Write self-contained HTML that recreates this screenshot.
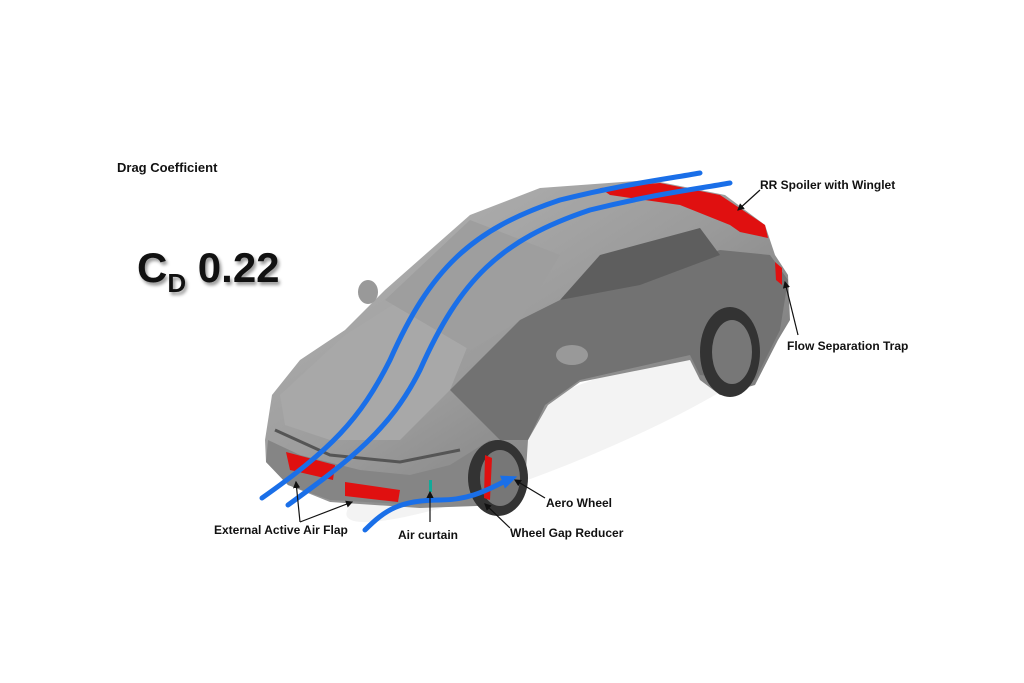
<!DOCTYPE html>
<html><head><meta charset="utf-8"><style>
html,body{margin:0;padding:0;background:#fff;}
body{width:1024px;height:683px;position:relative;overflow:hidden;font-family:"Liberation Sans",sans-serif;}
.t{position:absolute;font-weight:bold;color:#111;font-size:12px;white-space:nowrap;}
</style></head><body>
<svg width="1024" height="683" style="position:absolute;left:0;top:0">
<defs>
<linearGradient id="bd" x1="0" y1="0" x2="1" y2="1">
<stop offset="0" stop-color="#b9b9b9"/><stop offset="0.5" stop-color="#9a9a9a"/><stop offset="1" stop-color="#6a6a6a"/>
</linearGradient>
<marker id="ar" markerUnits="userSpaceOnUse" markerWidth="16" markerHeight="16" refX="6" refY="8" orient="auto"><path d="M0,1 L16,8 L0,15 Z" fill="#1a6fe8"/></marker>
<marker id="bk" markerWidth="6" markerHeight="6" refX="5" refY="3" orient="auto"><path d="M0,0 L6,3 L0,6 Z" fill="#111"/></marker>
</defs>
<ellipse cx="560" cy="430" rx="230" ry="35" fill="#f3f3f3" transform="rotate(-22 560 430)"/>
<!-- body -->
<path d="M265,440 L272,395 L300,360 L345,330 L385,290 L470,215 L540,188 L650,180 L725,195 L765,225 L775,255 L788,275 L790,320 L778,340 L755,385 L720,395 L700,380 L690,360 L580,382 L548,405 L528,440 L525,485 L505,505 L420,508 L330,502 L288,485 L266,462 Z" fill="url(#bd)"/>
<path d="M280,395 L345,335 L400,300 L470,340 L450,390 L400,440 L330,440 L285,425 Z" fill="#a8a8a8"/>
<path d="M385,300 L470,220 L560,255 L520,320 L470,350 Z" fill="#9e9e9e"/>
<path d="M450,390 L520,320 L560,300 L720,250 L770,255 L788,280 L780,330 L755,380 L700,375 L690,355 L580,380 L545,405 L528,440 L500,440 Z" fill="#727272"/>
<path d="M560,300 L600,255 L700,228 L720,255 L640,285 Z" fill="#5e5e5e"/>
<path d="M268,440 L300,455 L360,470 L410,475 L450,465 L490,440 L500,460 L500,490 L420,505 L330,500 L288,485 L266,462 Z" fill="#858585"/>
<path d="M275,430 L330,455 L400,462 L460,450" stroke="#555" stroke-width="3" fill="none"/>
<ellipse cx="498" cy="478" rx="30" ry="38" fill="#333"/>
<ellipse cx="500" cy="478" rx="20" ry="28" fill="#777"/>
<ellipse cx="730" cy="352" rx="30" ry="45" fill="#333"/>
<ellipse cx="732" cy="352" rx="20" ry="32" fill="#777"/>
<ellipse cx="368" cy="292" rx="10" ry="12" fill="#999"/>
<ellipse cx="572" cy="355" rx="16" ry="10" fill="#999"/>
<path d="M600,188 L660,183 L720,195 L765,225 L768,238 L740,232 L730,225 L680,205 L610,195 Z" fill="#e01010"/>
<path d="M286,452 L335,465 L333,480 L290,470 Z" fill="#e01010"/>
<path d="M345,482 L400,490 L398,502 L345,496 Z" fill="#e01010"/>
<path d="M485,455 L492,458 L490,500 L484,498 Z" fill="#e01010"/>
<path d="M775,262 L782,268 L782,285 L776,280 Z" fill="#e01010"/>
<rect x="429" y="480" width="3" height="12" fill="#1a9"/>
<path d="M262,498 C330,450 360,420 390,360 C430,270 470,230 560,200 C620,185 660,180 700,173" stroke="#1a6fe8" stroke-width="5" fill="none" stroke-linecap="round"/>
<path d="M288,505 C350,460 390,430 420,370 C460,280 500,240 590,210 C650,195 690,190 730,183" stroke="#1a6fe8" stroke-width="5" fill="none" stroke-linecap="round"/>
<path d="M365,530 C385,510 400,500 440,500 C475,500 495,485 508,480" stroke="#1a6fe8" stroke-width="5" fill="none" stroke-linecap="round" marker-end="url(#ar)"/>
<g stroke="#111" stroke-width="1.2" fill="none">
<path d="M300,522 L296,482" marker-end="url(#bk)"/>
<path d="M300,522 L352,502" marker-end="url(#bk)"/>
<path d="M430,522 L430,492" marker-end="url(#bk)"/>
<path d="M545,498 L515,480" marker-end="url(#bk)"/>
<path d="M510,528 L485,504" marker-end="url(#bk)"/>
<path d="M798,335 L785,282" marker-end="url(#bk)"/>
<path d="M760,190 L738,210" marker-end="url(#bk)"/>
</g>
</svg>
<div class="t" style="left:117px;top:160px;font-size:13px">Drag Coefficient</div>
<div class="t" style="left:137px;top:244px;font-size:42px;text-shadow:2px 3px 3px #999;">C<sub style="font-size:26px;vertical-align:-10px">D</sub> 0.22</div>
<div class="t" style="left:760px;top:178px">RR Spoiler with Winglet</div>
<div class="t" style="left:787px;top:339px">Flow Separation Trap</div>
<div class="t" style="left:546px;top:496px">Aero Wheel</div>
<div class="t" style="left:510px;top:526px">Wheel Gap Reducer</div>
<div class="t" style="left:398px;top:528px">Air curtain</div>
<div class="t" style="left:214px;top:523px">External Active Air Flap</div>
</body></html>
